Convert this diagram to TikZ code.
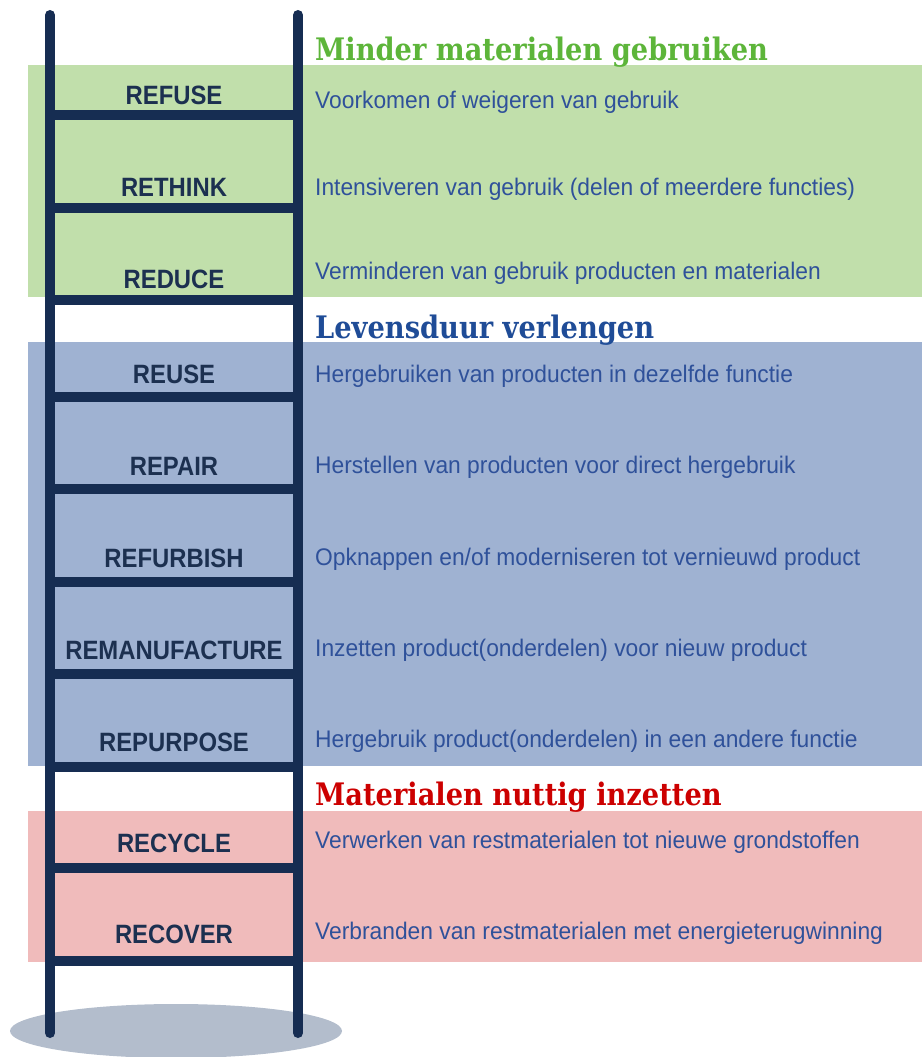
\documentclass[tikz,border=0pt]{standalone}
\usepackage{fontspec}
\setmainfont{Liberation Sans}
\newfontfamily\kopfont[FakeStretch=0.88]{DejaVu Serif}
\newfontfamily\tredefont[FakeStretch=0.9]{Liberation Sans}
\newfontfamily\uitlegfont[FakeStretch=0.95]{Liberation Sans}
\definecolor{groenband}{HTML}{C1DFAB}
\definecolor{blauwband}{HTML}{9FB2D2}
\definecolor{roodband}{HTML}{F0BBBB}
\definecolor{ladderkleur}{HTML}{162D52}
\definecolor{schaduw}{HTML}{B3BDCC}
\definecolor{kopgroen}{HTML}{5DB53A}
\definecolor{kopblauw}{HTML}{1F4C97}
\definecolor{koprood}{HTML}{CC0000}
\definecolor{uitlegblauw}{HTML}{2F519A}
\definecolor{tredetekst}{HTML}{1C3050}
\tikzset{
  ladderlijn/.style={ladderkleur, line width=10pt},
  trede/.style={inner sep=0pt, anchor=base, text=tredetekst, font=\tredefont\bfseries\fontsize{26.5}{30}\selectfont},
  uitleg/.style={inner sep=0pt, anchor=base west, text=uitlegblauw, font=\uitlegfont\fontsize{24}{28}\selectfont},
  kop/.style={inner sep=0pt, anchor=base west, font=\kopfont\bfseries\fontsize{31}{36}\selectfont}
}

\begin{document}
\begin{tikzpicture}[x=1pt,y=-1pt]
\useasboundingbox (0,0) rectangle (922,1057);

% banden
\fill[groenband] (28,65) rectangle (922,297);
\fill[blauwband] (28,342) rectangle (922,766);
\fill[roodband] (28,811) rectangle (922,962);

% schaduw onder de ladder
\fill[schaduw] (176,1031) ellipse (166pt and 27pt);

% ladder
\foreach \y in {115,208,300,397,489,582,674,767,868,961}{
\draw[ladderlijn] (50,\y) -- (298,\y);
}
\draw[ladderlijn, line cap=round] (50,15) -- (50,1033);
\draw[ladderlijn, line cap=round] (298,15) -- (298,1033);

% treden
\foreach \y/\t/\n in {104/REFUSE/refuse, 196/RETHINK/rethink, 288/REDUCE/reduce,
  383/REUSE/reuse, 475/REPAIR/repair, 567/REFURBISH/refurbish,
  659/REMANUFACTURE/remanufacture, 751/REPURPOSE/repurpose,
  852/RECYCLE/recycle, 943/RECOVER/recover}{
\node[trede] (\n) at (174,\y) {\t};
}

% uitleg
\foreach \y/\t [count=\i] in {108/{Voorkomen of weigeren van gebruik},
  195/{Intensiveren van gebruik (delen of meerdere functies)},
  279/{Verminderen van gebruik producten en materialen},
  382/{Hergebruiken van producten in dezelfde functie},
  473/{Herstellen van producten voor direct hergebruik},
  565/{Opknappen en/of moderniseren tot vernieuwd product},
  656/{Inzetten product(onderdelen) voor nieuw product},
  747/{Hergebruik product(onderdelen) in een andere functie},
  848/{Verwerken van restmaterialen tot nieuwe grondstoffen},
  939/{Verbranden van restmaterialen met energieterugwinning}}{
\node[uitleg] (uitleg\i) at (315,\y) {\t};
}

% koppen
\node[kop, text=kopgroen] (kopminder) at (315,60) {Minder materialen gebruiken};
\node[kop, text=kopblauw] (kopleven) at (315,338) {Levensduur verlengen};
\node[kop, text=koprood] (kopnuttig) at (315,805) {Materialen nuttig inzetten};
\end{tikzpicture}
\end{document}
